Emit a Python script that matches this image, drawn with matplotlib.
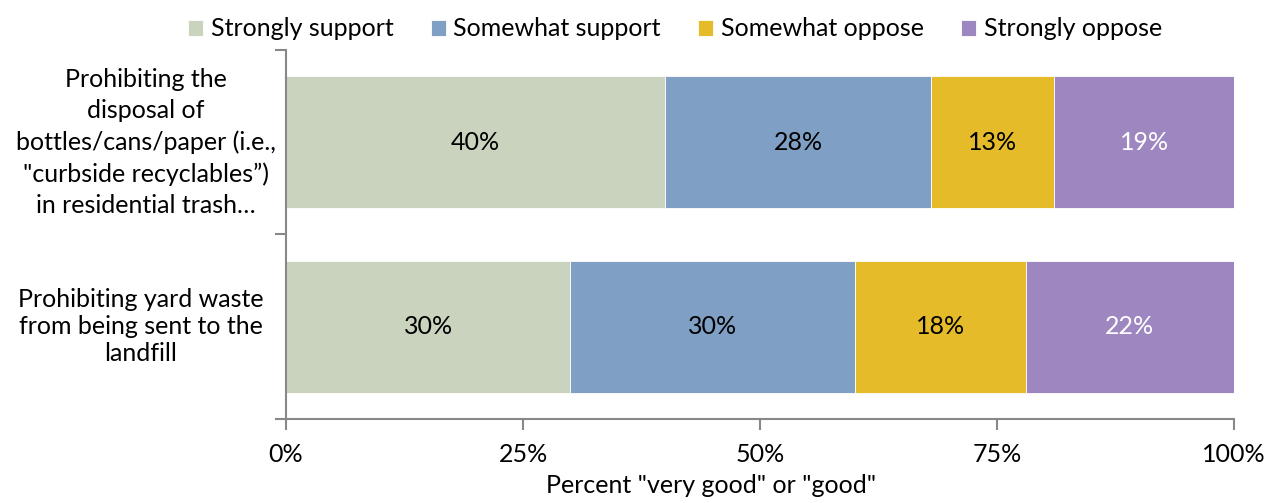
import numpy as np
import matplotlib
matplotlib.use("Agg")
import matplotlib.pyplot as plt

plt.rcParams['font.family'] = ['Lato', 'DejaVu Sans']

questions = ['Prohibiting the\ndisposal of\nbottles/cans/paper (i.e.,\n"curbside recyclables\u201d)\nin residential trash\u2026',
             'Prohibiting yard waste\nfrom being sent to the\nlandfill']
responses = ['Strongly support', 'Somewhat support', 'Somewhat oppose', 'Strongly oppose']
strongly_support = [40, 30]
somewhat_support = [28, 30]
somewhat_oppose = [13, 18]
strongly_oppose = [19, 22]

colors = ['#C9D3BE', '#7F9FC4', '#E5BB2A', '#9E86C1']
text_colors = ['black', 'black', 'black', 'white']
fs = 18

fig = plt.figure(figsize=(12.69, 5.03), dpi=100)
ax = fig.add_axes([0.2254, 0.167, 0.7472, 0.7336])

series = [strongly_support, somewhat_support, somewhat_oppose, strongly_oppose]
ypos = np.arange(len(questions))
left = np.zeros(len(questions))
for vals, name, col, tcol in zip(series, responses, colors, text_colors):
    vals = np.asarray(vals, dtype=float)
    bars = ax.barh(ypos, vals, left=left, height=0.715, color=col, label=name,
                   edgecolor='white', linewidth=0.6)
    for b, v in zip(bars, vals):
        ax.text(b.get_x() + b.get_width() / 2, b.get_y() + b.get_height() / 2,
                '%d%%' % v, ha='center', va='center', fontsize=fs, color=tcol)
    left += vals

ax.set_xlim(0, 100)
ax.set_ylim(1.5, -0.5)
ax.set_xticks([0, 25, 50, 75, 100])
ax.set_xticklabels(['0%', '25%', '50%', '75%', '100%'], fontsize=fs)
ax.set_yticks([-0.5, 0.5, 1.5])
ax.set_yticklabels([])
ax.tick_params(axis='both', color='#888888', width=1.5, length=8)
ax.tick_params(axis='x', pad=9)

# category labels, wrapped and centred to the left of the axis
spacing = [1.42, 1.22]
xoff = [-0.011, -0.024]
for i, q in enumerate(questions):
    ax.text(xoff[i], ypos[i], q, transform=ax.get_yaxis_transform(),
            ha='right', va='center', multialignment='center', fontsize=fs,
            linespacing=spacing[i])

for s in ['top', 'right']:
    ax.spines[s].set_visible(False)
for s in ['left', 'bottom']:
    ax.spines[s].set_color('#888888')
    ax.spines[s].set_linewidth(1.5)

ax.set_xlabel('Percent "very good" or "good"', fontsize=fs)
ax.xaxis.set_label_coords(0.448, -0.15)

fig.legend(loc='upper center', bbox_to_anchor=(0.532, 1.01), ncol=4, frameon=False,
           fontsize=fs, handlelength=0.6, handleheight=0.6, handletextpad=0.3,
           columnspacing=1.5)

fig.savefig('out.png', dpi=100)
